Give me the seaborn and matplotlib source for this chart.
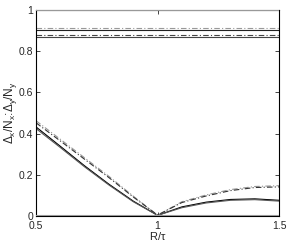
import matplotlib
matplotlib.use("Agg")
import matplotlib.pyplot as plt
import seaborn as sns

# R/tau grid
r_tau = [0.5, 0.6, 0.7, 0.8, 0.9, 1.0, 1.1, 1.2, 1.3, 1.4, 1.5]

# curves
solid_a = [0.432, 0.338, 0.243, 0.154, 0.072, 0.003, 0.044, 0.067, 0.080, 0.083, 0.076]
solid_b = [0.424, 0.332, 0.238, 0.150, 0.069, 0.003, 0.040, 0.063, 0.076, 0.079, 0.072]
dashdot_a = [0.462, 0.372, 0.282, 0.192, 0.096, 0.004, 0.069, 0.102, 0.128, 0.143, 0.147]
dashdot_b = [0.452, 0.364, 0.275, 0.186, 0.092, 0.004, 0.065, 0.097, 0.123, 0.138, 0.141]

# horizontal reference levels
level_dd_light = 0.913
level_solid_dark = 0.905
level_dd_dark = 0.880
level_solid_gray = 0.869

sns.set_style("white")
plt.rcParams['font.family'] = ['Liberation Sans', 'DejaVu Sans']
plt.rcParams['mathtext.default'] = 'regular'

fig = plt.figure(figsize=(2.91, 2.44), dpi=100)
ax = fig.add_axes([0.124, 0.115, 0.835, 0.844])

dd = (0, (5, 2, 1, 2))
series = [
    (solid_a, '#000000', '-'),
    (solid_b, '#555555', '-'),
    (dashdot_a, '#999999', dd),
    (dashdot_b, '#333333', dd),
]
for vals, col, ls in series:
    sns.lineplot(x=r_tau, y=vals, ax=ax, color=col, linestyle=ls, lw=0.8)

for lev, col, ls in [(level_dd_light, '#999999', dd), (level_solid_dark, '#222222', '-'),
                     (level_dd_dark, '#444444', dd), (level_solid_gray, '#444444', '-')]:
    ax.axhline(lev, color=col, linestyle=ls, lw=0.8)

ax.axhline(1.0, color='#999999', lw=1.5, zorder=5)
ax.axhline(0.0, color='#999999', lw=1.5, zorder=5)

ax.set_xlim(0.5, 1.5)
ax.set_ylim(0, 1)
ax.set_xticks([0.5, 1, 1.5])
ax.set_xticklabels(['0.5', '1', '1.5'])
ax.set_yticks([0, 0.2, 0.4, 0.6, 0.8, 1])
ax.set_yticklabels(['0', '0.2', '0.4', '0.6', '0.8', '1'])
ax.tick_params(direction='in', length=3, width=0.6, labelsize=7.5, top=True, right=True,
               bottom=True, left=True, pad=2)
ax.tick_params(axis='x', pad=4)
for s in ax.spines.values():
    s.set_color('black')
    s.set_linewidth(0.8)

ax.set_xlabel(r'R/$\tau$', fontsize=8, labelpad=-1)
ax.set_ylabel(r'$\Delta_x$/N$_x$:$\Delta_y$/N$_y$', fontsize=8.5, labelpad=0)

fig.savefig('out.png', dpi=100)
